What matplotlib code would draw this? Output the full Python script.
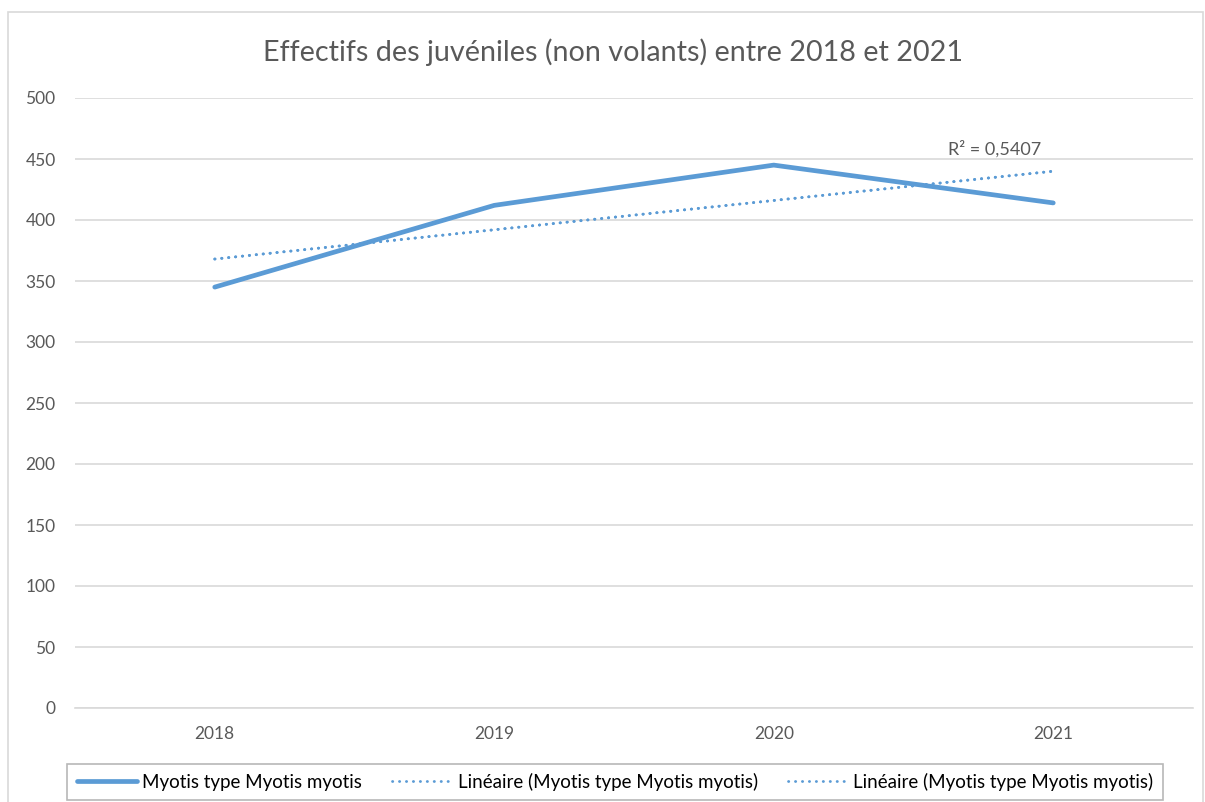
import numpy as np
import matplotlib.pyplot as plt
from matplotlib.patches import Rectangle
from matplotlib.lines import Line2D

# données
annees = ['2018', '2019', '2020', '2021']
effectifs = [345, 412, 445, 414]
yticks = [0, 50, 100, 150, 200, 250, 300, 350, 400, 450, 500]

plt.rcParams['font.family'] = ['Lato', 'DejaVu Sans']

bleu = '#5B9BD5'
gris = '#595959'
pointille = (0, (0.1, 2.4))

fig = plt.figure(figsize=(12.05, 8.02), dpi=100)
ax = fig.add_axes([75 / 1205, 1 - 708 / 802, (1193 - 75) / 1205, (708 - 98) / 802])

x = np.arange(len(annees))
y = np.array(effectifs, dtype=float)

# courbe de tendance linéaire
pente, origine = np.polyfit(x, y, 1)
tendance = pente * x + origine
r2 = 1 - np.sum((y - tendance) ** 2) / np.sum((y - y.mean()) ** 2)

ax.plot(x, y, color=bleu, lw=3.4, solid_capstyle='round', zorder=3)
for _ in range(2):
    ax.plot(x, tendance, color=bleu, lw=2.0, ls=pointille, dash_capstyle='round', zorder=2)

ax.text(2.79, 451, 'R² = ' + f'{r2:.4f}'.replace('.', ','), ha='center', va='bottom',
        fontsize=13, color=gris)

ax.set_xlim(-0.5, 3.5)
ax.set_ylim(0, 500)
ax.set_yticks(yticks)
ax.set_xticks(x)
ax.set_xticklabels(annees)
ax.tick_params(length=0, labelsize=12.5, labelcolor=gris)
ax.tick_params(axis='x', pad=13)
ax.tick_params(axis='y', pad=14)
ax.grid(axis='y', color='#d9d9d9', lw=1.2)
ax.set_axisbelow(True)
for s in ['top', 'right', 'left']:
    ax.spines[s].set_visible(False)
ax.spines['bottom'].set_color('#d9d9d9')
ax.spines['bottom'].set_linewidth(1.2)

fig.text(613 / 1205, 1 - 52 / 802, 'Effectifs des juvéniles (non volants) entre 2018 et 2021',
         ha='center', va='center', fontsize=20.7, color=gris)

# cadre du graphique
fig.patches.append(Rectangle((8 / 1205, -0.01), 1195 / 1205, 1 - 12 / 802 + 0.01,
                             transform=fig.transFigure, fill=False, ec='#d9d9d9', lw=1.2))

handles = [
    Line2D([], [], color=bleu, lw=3.4, solid_capstyle='round'),
    Line2D([], [], color=bleu, lw=2.0, ls=pointille, dash_capstyle='round'),
    Line2D([], [], color=bleu, lw=2.0, ls=pointille, dash_capstyle='round'),
]
labels = ['Myotis type Myotis myotis',
          'Linéaire (Myotis type Myotis myotis)',
          'Linéaire (Myotis type Myotis myotis)']
leg = fig.legend(handles, labels, loc='center', bbox_to_anchor=(615 / 1205, 1 - 782 / 802),
                 ncol=3, frameon=True, fancybox=False, fontsize=13.5, handlelength=3.2,
                 handletextpad=0.3, columnspacing=1.6, borderpad=0.5)
leg.get_frame().set_edgecolor('#a6a6a6')
leg.get_frame().set_linewidth(1.2)
for t in leg.get_texts():
    t.set_color('black')

fig.savefig('out.png', dpi=100)
